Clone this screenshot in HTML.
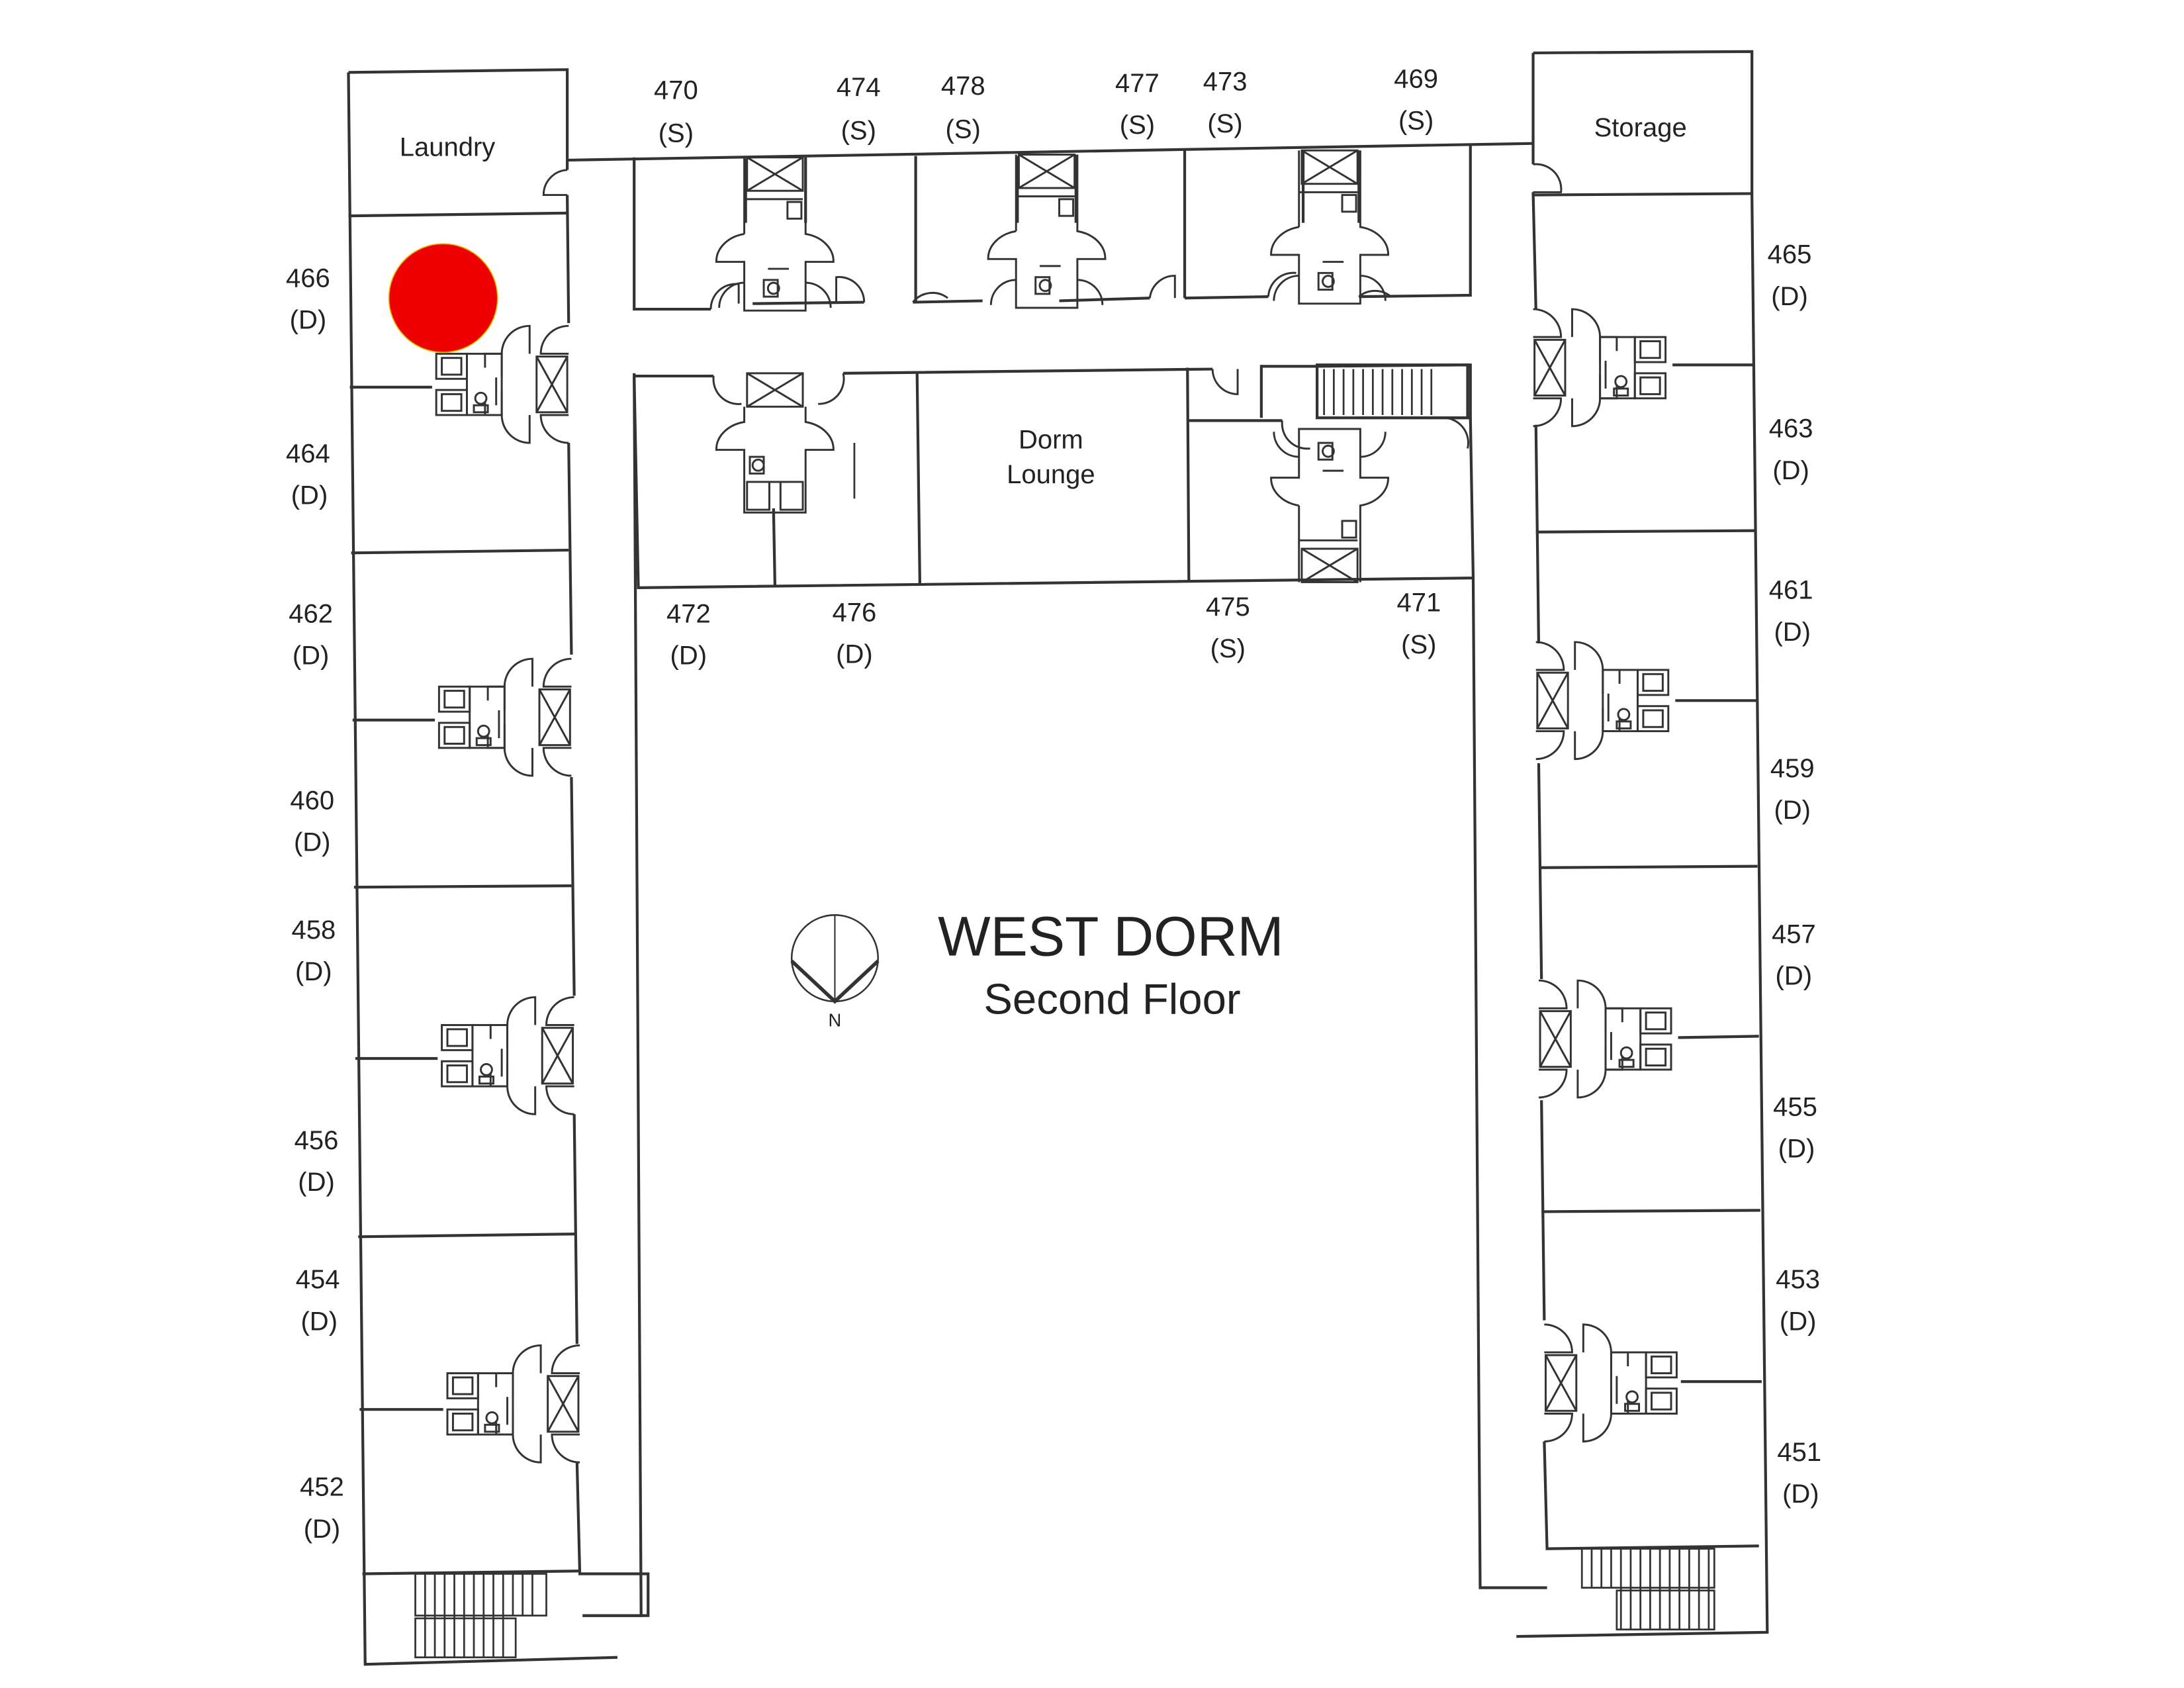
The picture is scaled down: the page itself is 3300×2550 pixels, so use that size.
<!DOCTYPE html>
<html><head><meta charset="utf-8">
<style>
html,body{margin:0;padding:0;background:#fff;}
svg{display:block;}
text{font-family:"Liberation Sans",sans-serif;fill:#222;}
</style></head>
<body>
<svg width="3300" height="2550" viewBox="0 0 1567 1212" preserveAspectRatio="none" xmlns="http://www.w3.org/2000/svg">
<defs>
<g id="bathL" fill="none" stroke="#333" stroke-width="1.4">
  <rect x="-23" y="-20" width="22" height="40"/>
  <path d="M-23,-20 L-1,20 M-1,-20 L-23,20"/>
  <path d="M0,-42 A20,20 0 0 0 -20,-22 L0,-22"/>
  <path d="M0,42 A20,20 0 0 1 -20,22 L0,22"/>
  <path d="M-28,-22 L-28,-42 A20,20 0 0 0 -48,-22 L-60,-22 L-60,-12"/>
  <path d="M-28,22 L-28,42 A20,20 0 0 1 -48,22 L-60,22 L-60,12"/>
  <path d="M-48,-22 L-48,-5 M-48,22 L-48,5"/>
  <rect x="-95" y="-22" width="22" height="18"/>
  <rect x="-95" y="4" width="22" height="18"/>
  <rect x="-91" y="-19" width="14" height="12"/>
  <rect x="-91" y="7" width="14" height="12"/>
  <rect x="-73" y="-22" width="25" height="44"/>
  <circle cx="-63" cy="10" r="4"/>
  <rect x="-68" y="15" width="10" height="5"/>
  <path d="M-52,-5 L-52,15"/>
</g>
<g id="bathT" fill="none" stroke="#333" stroke-width="1.4">
  <rect x="-20" y="0" width="40" height="24"/>
  <path d="M-20,0 L20,24 M20,0 L-20,24"/>
  <path d="M-22,30 L20,30"/>
  <rect x="9" y="32" width="10" height="12"/>
  <path d="M-22,55 A25,20 0 0 0 -42,75 L-22,75 L-22,110 L22,110 L22,75 L42,75 A25,20 0 0 0 22,55 L22,0 M-22,55 L-22,0"/>
  <path d="M-22,90 A18,18 0 0 0 -40,108 M22,90 A18,18 0 0 1 40,108"/>
  <path d="M-5,80 L10,80"/>
  <rect x="-8" y="88" width="10" height="12"/>
  <circle cx="-1" cy="94" r="4"/>
</g>
<g id="bathM" fill="none" stroke="#333" stroke-width="1.4">
  <rect x="-20" y="0" width="40" height="24"/>
  <path d="M-20,0 L20,24 M20,0 L-20,24"/>
  <path d="M-22,24 L-22,35 A25,20 0 0 0 -42,55 L-22,55 L-22,100 L22,100 L22,55 L42,55 A25,20 0 0 0 22,35 L22,24"/>
  <path d="M-5,78 L10,78"/>
  <rect x="-18" y="60" width="10" height="12"/>
  <circle cx="-12" cy="66" r="4"/>
  <rect x="-20" y="78" width="16" height="20"/>
  <rect x="4" y="78" width="16" height="20"/>
</g>
</defs>

<g fill="none" stroke="#333" stroke-width="2">
  <path d="M250,52 L407,50 L407,122"/>
  <path d="M250,52 L262,1195 L443,1190"/>
  <path d="M407,140 L408,232 M408,318 L410,470 M410,558 L412,715 M412,800 L414,965 M414,1050 L416,1130 L465,1130 L465,1160 L418,1160"/>
  <path d="M250,155 L407,153 M251,278 L310,278 M252,397 L408,395 M253,517 L312,517 M254,637 L410,636 M255,760 L314,760 M257,888 L413,886 M258,1012 L318,1012 M260,1130 L416,1128"/>
  <path d="M455,268 L460,1160 L418,1160"/>
  <path d="M407,115 L1100,103"/>
  <path d="M455,113 L455,222 L510,222 M540,218 L620,217 M655,217 L705,216 M760,216 L825,214 M850,214 L910,213 M975,213 L1055,212 L1055,103"/>
  <path d="M657,112 L657,217 M850,108 L850,214 M535,114 L535,160 M578,113 L578,160 M730,112 L730,160 M772,111 L772,160 M935,108 L935,160 M975,108 L975,160"/>
  <path d="M455,270 L512,270 M605,268 L870,265 M905,263 L945,263 L1055,262 L1055,300 L1035,300"/>
  <path d="M455,270 L458,422 L1057,415 L1055,300"/>
  <path d="M555,365 L556,420 M658,268 L660,420 M852,264 L853,417 M853,302 L920,302 M975,300 L1035,300"/>
  <path d="M905,262 L905,300"/>
  <path d="M613,318 L613,358" stroke-width="1.3"/>
  <rect x="945" y="262" width="108" height="38"/>
  <path d="M1057,415 L1062,1140 L1110,1140"/>
  <path d="M1100,38 L1257,37 L1257,140 L1268,1172 L1088,1175"/>
  <path d="M1100,38 L1100,118 M1100,138 L1102,222 M1102,305 L1104,462 M1104,548 L1106,703 M1106,790 L1108,948 M1108,1035 L1110,1112 L1262,1110"/>
  <path d="M1100,140 L1257,139 M1200,262 L1258,262 M1102,382 L1259,381 M1202,503 L1260,503 M1104,623 L1261,622 M1204,745 L1262,744 M1106,870 L1263,869 M1206,992 L1264,992"/>
  <path d="M407,122 A18,18 0 0 0 390,140 L407,140" stroke-width="1.4"/>
  <path d="M1100,118 A18,18 0 0 1 1120,138 L1100,138" stroke-width="1.4"/>
  <path d="M510,222 A18,18 0 0 1 530,204 L530,218 M620,217 A18,18 0 0 0 600,199 L600,217 M655,217 A18,18 0 0 1 680,214 M825,214 A18,18 0 0 1 843,198 L843,214 M910,213 A18,18 0 0 1 930,196 M975,213 A18,18 0 0 1 998,213" stroke-width="1.4"/>
  <path d="M512,270 A18,18 0 0 0 532,290 M605,268 A18,18 0 0 1 587,290 M870,265 A18,18 0 0 0 888,283 L888,265 M1035,300 A18,18 0 0 1 1053,322 M920,302 A18,18 0 0 0 940,322" stroke-width="1.4"/>
</g>

<g stroke="#333" stroke-width="1.3" fill="none">
  <path d="M950,265 V298 M957,265 V298 M964,265 V298 M971,265 V298 M978,265 V298 M985,265 V298 M992,265 V298 M999,265 V298 M1006,265 V298 M1013,265 V298 M1020,265 V298 M1027,265 V298"/>
  <rect x="298" y="1130" width="94" height="30"/>
  <rect x="298" y="1162" width="72" height="28"/>
  <path d="M305,1130 V1190 M312,1130 V1190 M319,1130 V1190 M326,1130 V1190 M333,1130 V1190 M340,1130 V1190 M347,1130 V1190 M354,1130 V1190 M361,1130 V1190 M368,1130 V1160 M375,1130 V1160 M382,1130 V1160"/>
  <rect x="1135" y="1112" width="95" height="28"/>
  <rect x="1160" y="1142" width="70" height="28"/>
  <path d="M1142,1112 V1140 M1149,1112 V1140 M1156,1112 V1140 M1163,1112 V1170 M1170,1112 V1170 M1177,1112 V1170 M1184,1112 V1170 M1191,1112 V1170 M1198,1112 V1170 M1205,1112 V1170 M1212,1112 V1170 M1219,1112 V1170 M1226,1112 V1170"/>
</g>

<use href="#bathL" transform="translate(408,276)"/>
<use href="#bathL" transform="translate(410,515)"/>
<use href="#bathL" transform="translate(412,758)"/>
<use href="#bathL" transform="translate(416,1008)"/>
<use href="#bathL" transform="translate(1100,264) scale(-1,1)"/>
<use href="#bathL" transform="translate(1102,503) scale(-1,1)"/>
<use href="#bathL" transform="translate(1104,746) scale(-1,1)"/>
<use href="#bathL" transform="translate(1108,993) scale(-1,1)"/>
<use href="#bathT" transform="translate(556,113)"/>
<use href="#bathT" transform="translate(751,111)"/>
<use href="#bathT" transform="translate(954,108)"/>
<use href="#bathM" transform="translate(556,268)"/>
<use href="#bathT" transform="translate(954,310) scale(1,-1) translate(0,-108)"/>

<circle cx="318" cy="214" r="39" fill="#ee0000" stroke="#e0c000" stroke-width="0.8"/>

<g fill="none" stroke="#333">
  <ellipse cx="599" cy="688" rx="31" ry="31" stroke-width="1.2"/>
  <path d="M599,657 L599,719" stroke-width="1"/>
  <path d="M568,690 L599,719 L630,690" stroke-width="2.6"/>
</g>
<text x="599" y="737" font-size="13" text-anchor="middle">N</text>
<text x="797" y="686" font-size="40" text-anchor="middle" fill="#333">WEST DORM</text>
<text x="798" y="728" font-size="31" text-anchor="middle" fill="#333">Second Floor</text>

<g font-size="19" text-anchor="middle">
<text x="321" y="112">Laundry</text>
<text x="1177" y="98">Storage</text>
<text x="754" y="322">Dorm</text>
<text x="754" y="347">Lounge</text>
<text x="485" y="71">470</text><text x="485" y="102">(S)</text>
<text x="616" y="69">474</text><text x="616" y="100">(S)</text>
<text x="691" y="68">478</text><text x="691" y="99">(S)</text>
<text x="816" y="66">477</text><text x="816" y="96">(S)</text>
<text x="879" y="65">473</text><text x="879" y="95">(S)</text>
<text x="1016" y="63">469</text><text x="1016" y="93">(S)</text>
<text x="494" y="447">472</text><text x="494" y="477">(D)</text>
<text x="613" y="446">476</text><text x="613" y="476">(D)</text>
<text x="881" y="442">475</text><text x="881" y="472">(S)</text>
<text x="1018" y="439">471</text><text x="1018" y="469">(S)</text>
<text x="221" y="206">466</text><text x="221" y="236">(D)</text>
<text x="221" y="332">464</text><text x="222" y="362">(D)</text>
<text x="223" y="447">462</text><text x="223" y="477">(D)</text>
<text x="224" y="581">460</text><text x="224" y="611">(D)</text>
<text x="225" y="674">458</text><text x="225" y="704">(D)</text>
<text x="227" y="825">456</text><text x="227" y="855">(D)</text>
<text x="228" y="925">454</text><text x="229" y="955">(D)</text>
<text x="231" y="1074">452</text><text x="231" y="1104">(D)</text>
<text x="1284" y="189">465</text><text x="1284" y="219">(D)</text>
<text x="1285" y="314">463</text><text x="1285" y="344">(D)</text>
<text x="1285" y="430">461</text><text x="1286" y="460">(D)</text>
<text x="1286" y="558">459</text><text x="1286" y="588">(D)</text>
<text x="1287" y="677">457</text><text x="1287" y="707">(D)</text>
<text x="1288" y="801">455</text><text x="1289" y="831">(D)</text>
<text x="1290" y="925">453</text><text x="1290" y="955">(D)</text>
<text x="1291" y="1049">451</text><text x="1292" y="1079">(D)</text>
</g>
</svg>
</body></html>
